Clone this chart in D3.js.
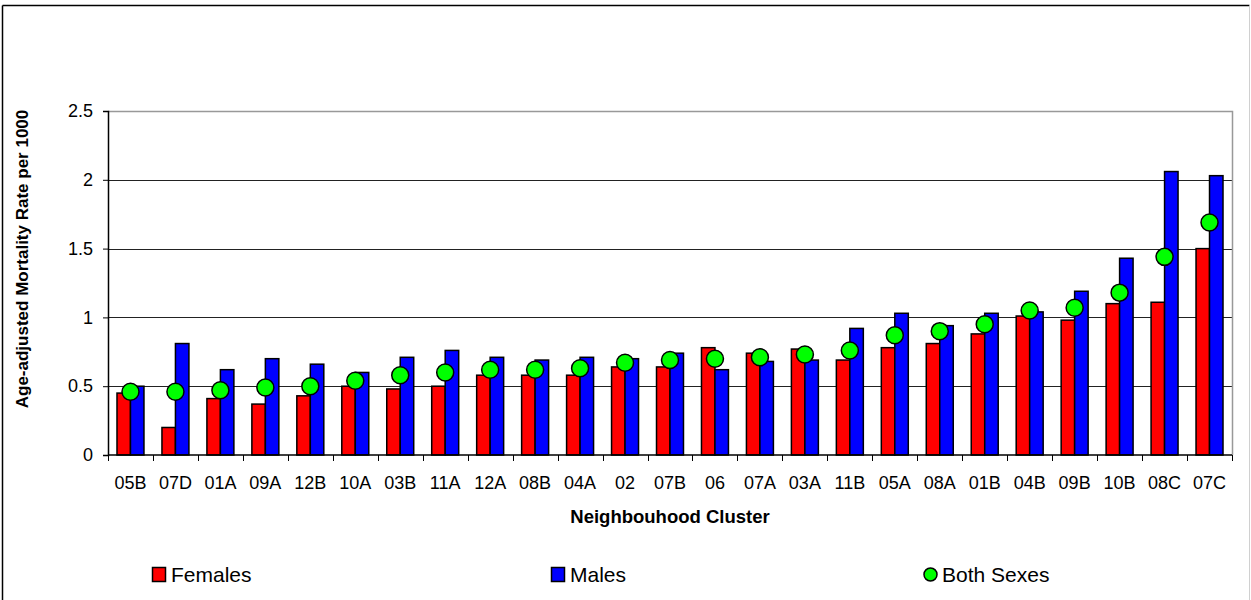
<!DOCTYPE html>
<html>
<head>
<meta charset="utf-8">
<script src="https://d3js.org/d3.v7.min.js"></script>
<style>
  body { margin: 0; background: #fff; font-family: Arial, "Liberation Sans", sans-serif; }
  svg text { font-family: Arial, "Liberation Sans", sans-serif; fill: #000; }
</style>
</head>
<body>
<div id="chart"></div>
<script>
// Data
var clusters = ["05B","07D","01A","09A","12B","10A","03B","11A","12A","08B","04A","02","07B","06","07A","03A","11B","05A","08A","01B","04B","09B","10B","08C","07C"];
var females = [0.45,0.20,0.41,0.37,0.43,0.50,0.48,0.50,0.58,0.58,0.58,0.64,0.64,0.78,0.74,0.77,0.69,0.78,0.81,0.88,1.01,0.98,1.10,1.11,1.50];
var males   = [0.50,0.81,0.62,0.70,0.66,0.60,0.71,0.76,0.71,0.69,0.71,0.70,0.74,0.62,0.68,0.69,0.92,1.03,0.94,1.03,1.04,1.19,1.43,2.06,2.03];
var both    = [0.46,0.46,0.47,0.49,0.50,0.54,0.58,0.60,0.62,0.62,0.63,0.67,0.69,0.70,0.71,0.73,0.76,0.87,0.90,0.95,1.05,1.07,1.18,1.44,1.69];
var yTicks = [0, 0.5, 1, 1.5, 2, 2.5];
var seriesNames = ["Females", "Males", "Both Sexes"];
var seriesColors = ["#ff0000", "#0000ff", "#00ff00"];

(function() {
var width = 1251, height = 600;
var pLeft = 108, pRight = 1232, pTop = 111, pBottom = 455;

var svg = d3.select("#chart").append("svg")
    .attr("width", width)
    .attr("height", height);

// outer frame
svg.append("line").attr("x1", 2.5).attr("y1", 5.5).attr("x2", 1249.5).attr("y2", 5.5)
    .attr("stroke", "#000").attr("stroke-width", 1.5);
svg.append("line").attr("x1", 2.5).attr("y1", 5.5).attr("x2", 2.5).attr("y2", 600)
    .attr("stroke", "#000").attr("stroke-width", 1.5);
svg.append("line").attr("x1", 1249.5).attr("y1", 5.5).attr("x2", 1249.5).attr("y2", 600)
    .attr("stroke", "#d0d0d0").attr("stroke-width", 1);

var x = d3.scaleBand().domain(clusters).range([pLeft, pRight]).paddingInner(0.4).paddingOuter(0.2);
var step = (pRight - pLeft) / clusters.length;
var xSub = d3.scaleBand().domain(["f", "m"]).range([0, x.bandwidth()]);
var y = d3.scaleLinear().domain([0, 2.5]).range([pBottom, pTop]);

// gridlines
svg.append("g").selectAll("line").data(yTicks.filter(function(d) { return d > 0 && d < 2.5; }))
  .enter().append("line")
    .attr("x1", pLeft).attr("x2", pRight)
    .attr("y1", function(d) { return Math.round(y(d)) + 0.5; })
    .attr("y2", function(d) { return Math.round(y(d)) + 0.5; })
    .attr("stroke", "#222").attr("stroke-width", 1);

// plot border top/right
svg.append("path")
    .attr("d", "M" + pLeft + "," + (pTop + 0.5) + "H" + (pRight + 0.5) + "V" + pBottom)
    .attr("fill", "none").attr("stroke", "#999").attr("stroke-width", 1.5);

// bars
var groups = svg.append("g").selectAll("g").data(clusters).enter().append("g")
    .attr("transform", function(d) { return "translate(" + x(d) + ",0)"; });

groups.append("rect")
    .attr("x", xSub("f"))
    .attr("width", xSub.bandwidth())
    .attr("y", function(d, i) { return y(females[i]); })
    .attr("height", function(d, i) { return y(0) - y(females[i]); })
    .attr("fill", seriesColors[0]).attr("stroke", "#000").attr("stroke-width", 1.5);

groups.append("rect")
    .attr("x", xSub("m"))
    .attr("width", xSub.bandwidth())
    .attr("y", function(d, i) { return y(males[i]); })
    .attr("height", function(d, i) { return y(0) - y(males[i]); })
    .attr("fill", seriesColors[1]).attr("stroke", "#000").attr("stroke-width", 1.5);

groups.append("circle")
    .attr("cx", x.bandwidth() / 2)
    .attr("cy", function(d, i) { return y(both[i]); })
    .attr("r", 8.5)
    .attr("fill", seriesColors[2]).attr("stroke", "#000").attr("stroke-width", 1.5);

// y axis
var yAxis = svg.append("g")
    .attr("transform", "translate(" + pLeft + ",0)")
    .call(d3.axisLeft(y).tickValues(yTicks).tickSize(5).tickPadding(10).tickFormat(d3.format("")));
yAxis.select(".domain").attr("stroke", "#000").attr("stroke-width", 1.5);
yAxis.selectAll(".tick line").attr("stroke", "#000");
yAxis.selectAll("text").style("font-size", "18px");

// x axis
svg.append("line").attr("x1", pLeft).attr("x2", pRight).attr("y1", pBottom).attr("y2", pBottom)
    .attr("stroke", "#000").attr("stroke-width", 1.5);
var bounds = d3.range(clusters.length + 1).map(function(i) { return pLeft + i * step; });
svg.append("g").selectAll("line").data(bounds).enter().append("line")
    .attr("x1", function(d) { return Math.round(d) + 0.5; })
    .attr("x2", function(d) { return Math.round(d) + 0.5; })
    .attr("y1", pBottom).attr("y2", pBottom + 6)
    .attr("stroke", "#000");
svg.append("g").selectAll("text").data(clusters).enter().append("text")
    .attr("x", function(d) { return x(d) + x.bandwidth() / 2; })
    .attr("y", 489)
    .attr("text-anchor", "middle")
    .style("font-size", "18px")
    .text(function(d) { return d; });

// axis titles
svg.append("text")
    .attr("x", 670).attr("y", 523)
    .attr("text-anchor", "middle")
    .style("font-size", "18.5px").style("font-weight", "bold")
    .text("Neighbouhood Cluster");

svg.append("text")
    .attr("transform", "translate(28,259) rotate(-90)")
    .attr("text-anchor", "middle")
    .style("font-size", "17px").style("font-weight", "bold")
    .text("Age-adjusted Mortality Rate per 1000");

// legend
var legendX = [152, 551, 923];
var legend = svg.append("g").selectAll("g").data(seriesNames).enter().append("g")
    .attr("transform", function(d, i) { return "translate(" + legendX[i] + ",567)"; });
legend.filter(function(d, i) { return i < 2; }).append("rect")
    .attr("x", 0.5).attr("y", 0.5).attr("width", 13).attr("height", 14)
    .attr("fill", function(d) { return seriesColors[seriesNames.indexOf(d)]; })
    .attr("stroke", "#000").attr("stroke-width", 1.5);
legend.filter(function(d, i) { return i === 2; }).append("circle")
    .attr("cx", 7.5).attr("cy", 7.5).attr("r", 6.5)
    .attr("fill", seriesColors[2]).attr("stroke", "#000").attr("stroke-width", 1.5);
legend.append("text")
    .attr("x", 19)
    .attr("y", 15)
    .style("font-size", "21px")
    .text(function(d) { return d; });
})();
</script>
</body>
</html>
